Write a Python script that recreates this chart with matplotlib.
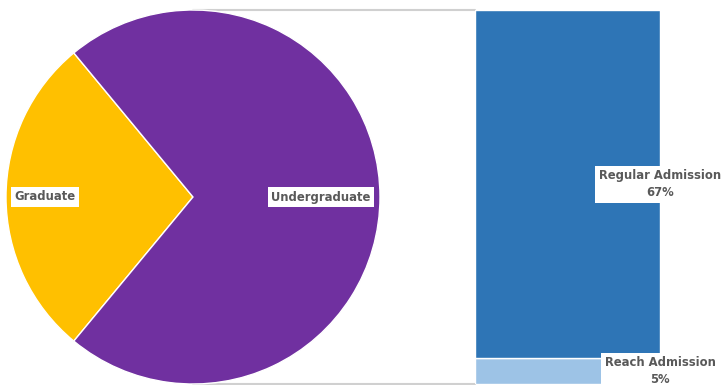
import matplotlib.pyplot as plt
from matplotlib.patches import ConnectionPatch

# student split and the admission breakdown of undergraduates
pie_labels = ['Graduate', 'Undergraduate']
pie_values = [28, 72]
pie_colors = ['#FFC000', '#7030A0']

bar_labels = ['Reach Admission', 'Regular Admission']
bar_values = [5, 67]
bar_colors = ['#9DC3E6', '#2E75B6']

plt.rcParams['font.family'] = ['DejaVu Sans']
text_color = '#595959'
box = dict(facecolor='white', edgecolor='none', pad=2.5)
font = dict(fontsize=9.3, fontweight='bold', fontstretch='condensed', color=text_color)

fig = plt.figure(figsize=(7.22, 3.85), dpi=100)

# pie on the left
ax1 = fig.add_axes([6 / 722, 1 / 385, 374 / 722, 374 / 385])
grad_angle = pie_values[0] / sum(pie_values) * 360
wedges, _ = ax1.pie(pie_values, colors=pie_colors, startangle=180 - grad_angle / 2,
                    wedgeprops=dict(edgecolor='white', linewidth=1))
ax1.set_xlim(-1, 1)
ax1.set_ylim(-1, 1)
ax1.axis('off')
ax1.text(-0.79, 0.0, pie_labels[0], ha='center', va='center', bbox=box, **font)
ax1.text(0.685, 0.0, pie_labels[1], ha='center', va='center', bbox=box, **font)

# stacked bar breaking down the undergraduate slice
ax2 = fig.add_axes([475 / 722, 1 / 385, 185 / 722, 374 / 385])
bottom = 0
for lab, val, col in zip(bar_labels, bar_values, bar_colors):
    ax2.bar(0, val, width=1, bottom=bottom, color=col, edgecolor='white', linewidth=1)
    ax2.text(0.5, bottom + val / 2, f'{lab}\n{val}%', ha='center', va='center',
             linespacing=1.4, bbox=box, clip_on=False, **font)
    bottom += val
ax2.set_xlim(-0.5, 0.5)
ax2.set_ylim(0, sum(bar_values))
ax2.axis('off')

# connector lines from the pie to the bar
for y_pie, y_bar in [(1, sum(bar_values)), (-1, 0)]:
    con = ConnectionPatch(xyA=(0, y_pie), coordsA=ax1.transData,
                          xyB=(-0.5, y_bar), coordsB=ax2.transData,
                          color='#d0d0d0', linewidth=1.5, zorder=0)
    fig.add_artist(con)

fig.savefig('out.png', dpi=100)
